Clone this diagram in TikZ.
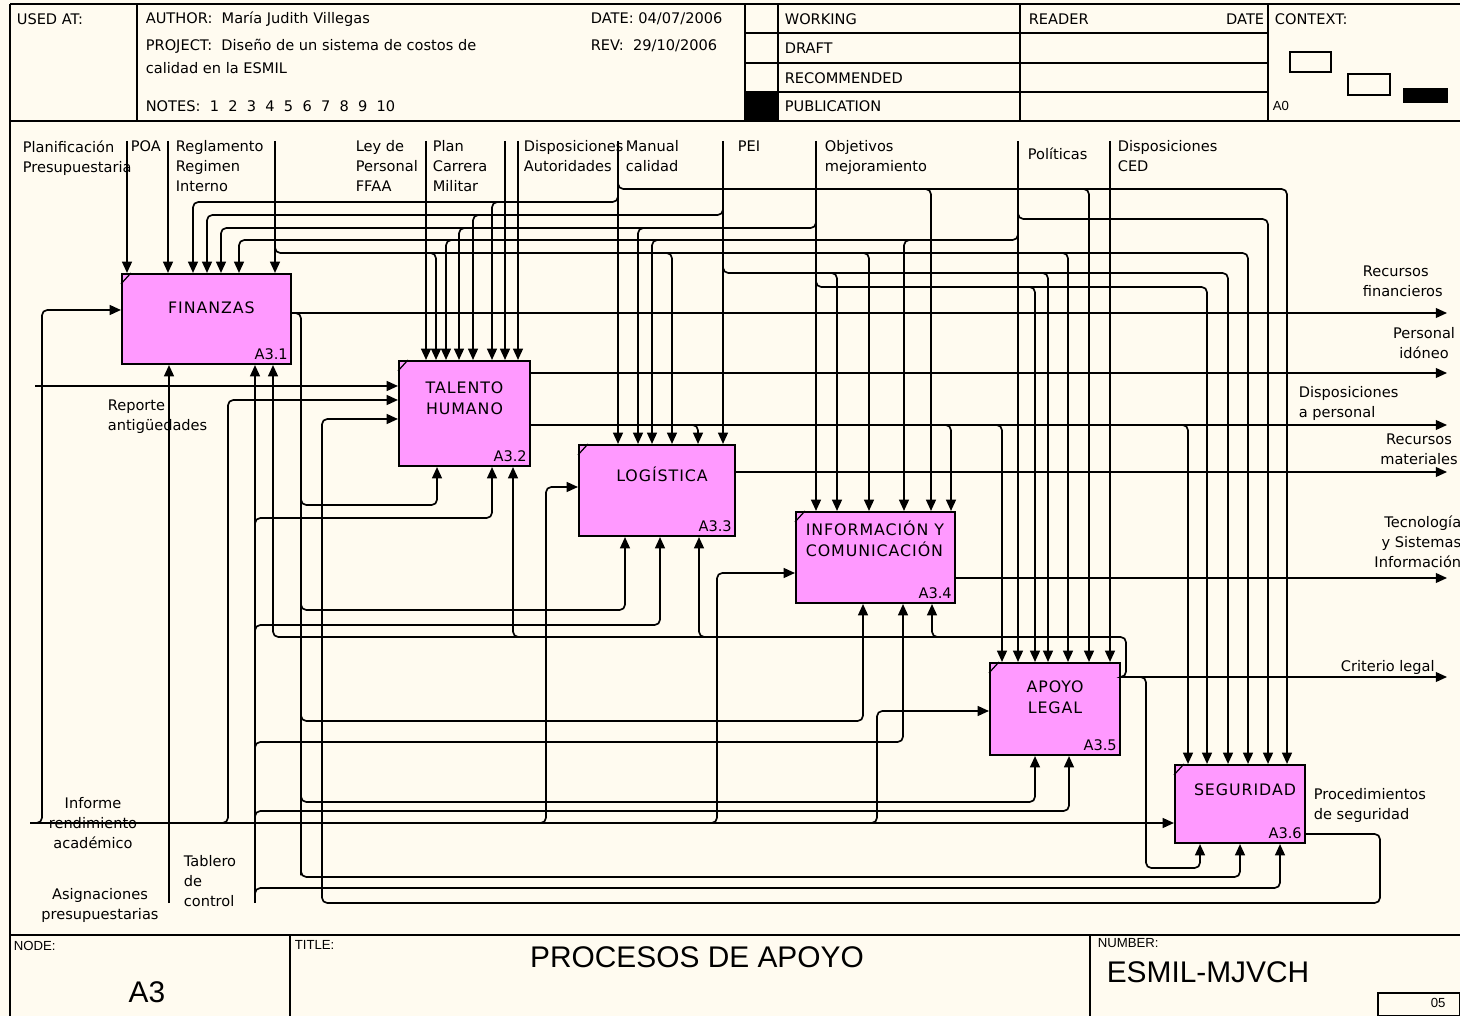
\documentclass[tikz,border=0pt]{standalone}
\usepackage{fontspec}
\setmainfont{DejaVu Sans}
\newfontfamily\boxfont[LetterSpace=6]{DejaVu Sans}
\newfontfamily\bigfont{Liberation Sans}
\usetikzlibrary{arrows.meta,positioning}
\definecolor{paper}{RGB}{255,251,240}
\definecolor{procpink}{RGB}{255,153,255}
\newcommand\procbox[5]{%
  \node[proc, minimum width=#3, minimum height=#4] (#1) at (#2) {};
  \draw[line width=0.7pt] ([yshift=-0.22cm]#1.north west) -- ([xshift=0.2cm]#1.north west);
  \node[boxid, anchor=south east] (#1-id) at ([xshift=-0.07cm,yshift=0.1cm]#1.south east) {#5};}
\begin{document}
\begin{tikzpicture}[x=0.02cm, y=-0.02cm, line width=0.95pt,
  every node/.style={font=\fontsize{8.3}{11.3}\selectfont, inner sep=0pt},
  proc/.style={draw, line width=1.2pt, fill=procpink},
  boxtxt/.style={font=\boxfont\fontsize{9}{12}\selectfont, align=center},
  boxid/.style={font=\fontsize{8.3}{10}\selectfont},
  lbl/.style={align=left, anchor=north west},
  wire/.style={rounded corners=3pt, -{Triangle[length=6.4pt,width=5.6pt]}},
  hdr/.style={anchor=west},
  tag/.style={font=\bigfont\fontsize{7.5}{8}\selectfont, anchor=north west},
  big/.style={font=\bigfont\fontsize{17}{20}\selectfont}]
  \fill[paper] (0,0) rectangle (1460,1016);
  \useasboundingbox (0,0) rectangle (1460,1016);

  % frame, header and footer
  \draw (10,4) -- (1460,4) (10,4) -- (10,1016);
  \draw[line width=1.3pt] (10,121) -- (1460,121) (10,935) -- (1460,935);
  \draw (137,4) -- (137,121) (745,4) -- (745,121) (778,4) -- (778,121) (1020,4) -- (1020,121) (1268,4) -- (1268,121);
  \draw (745,33) -- (1268,33) (745,63) -- (1268,63) (745,92) -- (1268,92);
  \fill (745,92) rectangle (778,121);
  \draw (1290,52) rectangle (1331,72) (1348,74) rectangle (1390,95);
  \fill (1403,88) rectangle (1448,103);
  \draw (290,935) -- (290,1016) (1090,935) -- (1090,1016) (1378,993) rectangle (1460,1016);

  \node[hdr] (usedat) at (16,19) {USED AT:};
  \node[hdr] (author) at (145,19) {AUTHOR:\ \ María Judith Villegas};
  \node[hdr] (date) at (590,19) {DATE: 04/07/2006};
  \node[hdr] (project) at (145,46) {PROJECT:\ \ Diseño de un sistema de costos de};
  \node[hdr] (project2) at (145,68) {calidad en la ESMIL};
  \node[hdr] (rev) at (590,46) {REV:\ \ 29/10/2006};
  \node[hdr] (notes) at (145,106) {NOTES:\ \ 1\ \ 2\ \ 3\ \ 4\ \ 5\ \ 6\ \ 7\ \ 8\ \ 9\ \ 10};
  \node[hdr] (working) at (784,19) {WORKING}; \node[hdr] (draft) at (784,48) {DRAFT};
  \node[hdr] (recom) at (784,78) {RECOMMENDED}; \node[hdr] (public) at (784,106) {PUBLICATION};
  \node[hdr] (reader) at (1028,19) {READER}; \node[anchor=east] (rdate) at (1265,19) {DATE};
  \node[hdr] (context) at (1274,19) {CONTEXT:};
  \node[tag] (a0) at (1272,100) {A0};
  \node[tag] (nodelbl) at (13,940) {NODE:};
  \node[big] (nodeval) at (147,992) {A3};
  \node[tag] (titlelbl) at (294,940) {TITLE:};
  \node[big] (titleval) at (697,957) {PROCESOS DE APOYO};
  \node[tag] (numlbl) at (1097,938) {NUMBER:};
  \node[big] (numval) at (1208,972) {ESMIL-MJVCH};
  \node[tag] (page) at (1430,997) {05};

  % activities
  \procbox{fin}{206.5,319}{3.38cm}{1.8cm}{A3.1}
  \procbox{tal}{464.5,413.5}{2.62cm}{2.1cm}{A3.2}
  \procbox{log}{657,490.5}{3.12cm}{1.82cm}{A3.3}
  \procbox{inf}{875.5,557.5}{3.18cm}{1.82cm}{A3.4}
  \procbox{leg}{1055,709}{2.6cm}{1.84cm}{A3.5}
  \procbox{seg}{1240,804}{2.6cm}{1.56cm}{A3.6}
  \node[boxtxt, below=0.55cm of fin.north, xshift=0.1cm] (fin-txt) {FINANZAS};
  \node[boxtxt, below=0.42cm of tal.north] (tal-txt) {TALENTO\\HUMANO};
  \node[boxtxt, below=0.44cm of log.north, xshift=0.1cm] (log-txt) {LOGÍSTICA};
  \node[boxtxt, align=left, below right=0.18cm and 0.2cm of inf.north west] (inf-txt) {INFORMACIÓN Y\\COMUNICACIÓN};
  \node[boxtxt, below=0.36cm of leg.north] (leg-txt) {APOYO\\LEGAL};
  \node[boxtxt, below=0.38cm of seg.north, xshift=0.1cm] (seg-txt) {SEGURIDAD};

  % controls
  \node[lbl] (l-planif) at (22,140) {Planificación\\Presupuestaria};
  \node[lbl] (l-poa) at (130,140) {POA};
  \node[lbl] (l-regl) at (175,140) {Reglamento\\Regimen\\Interno};
  \node[lbl] (l-leyp) at (355,140) {Ley de\\Personal\\FFAA};
  \node[lbl] (l-plan) at (432,140) {Plan\\Carrera\\Militar};
  \node[lbl] (l-dauto) at (523,140) {Disposiciones\\Autoridades};
  \node[lbl] (l-manual) at (625,140) {Manual\\calidad};
  \node[lbl] (l-pei) at (737,140) {PEI};
  \node[lbl] (l-obj) at (824,140) {Objetivos\\mejoramiento};
  \node[lbl] (l-polit) at (1027,147) {Políticas};
  \node[lbl] (l-dced) at (1117,140) {Disposiciones\\CED};
  \foreach \n/\x in {planif/127,poa/168,regl/275,leyp/426,plan/505,dauto/518,manual/618,pei/723,obj/816,polit/1018,dced/1110}
    \coordinate (\n) at (\x,141);
  \foreach \n/\b in {planif/fin,poa/fin,regl/fin,leyp/tal,plan/tal,dauto/tal,manual/log,pei/log,obj/inf,polit/leg,dced/leg}
    \draw[wire] (\n) -- (\n |- \b.north);

  \draw[wire] (regl |- 0,246) |- (1248,253) -- (1248,0 |- seg.north);
  \foreach \x/\b in {436/tal,672/log,869/inf,1068/leg} \draw[wire] (\x-7,253) -| (\x,0 |- \b.north);
  \draw[wire] (manual |- 0,195) |- (193,202) -- (193,0 |- fin.north);
  \draw[wire] (499,202) -| (492,0 |- tal.north);
  \draw[wire] (manual |- 0,182) |- (1287,189) -- (1287,0 |- seg.north);
  \foreach \x/\b in {931/inf,1089/leg} \draw[wire] (\x-7,189) -| (\x,0 |- \b.north);
  \draw[wire] (pei |- 0,208) |- (207,215) -- (207,0 |- fin.north);
  \draw[wire] (480,215) -| (473,0 |- tal.north);
  \draw[wire] (pei |- 0,266) |- (1228,273) -- (1228,0 |- seg.north);
  \foreach \x/\b in {837/inf,1048/leg} \draw[wire] (\x-7,273) -| (\x,0 |- \b.north);
  \draw[wire] (obj |- 0,221) |- (221,228) -- (221,0 |- fin.north);
  \foreach \x/\b in {459/tal,638/log} \draw[wire] (\x+7,228) -| (\x,0 |- \b.north);
  \draw[wire] (obj |- 0,280) |- (1207,287) -- (1207,0 |- seg.north);
  \draw[wire] (1028,287) -| (1035,0 |- leg.north);
  \draw[wire] (polit |- 0,233) |- (239,240) -- (239,0 |- fin.north);
  \foreach \x/\b in {446/tal,652/log,904/inf} \draw[wire] (\x+7,240) -| (\x,0 |- \b.north);
  \draw[wire] (polit |- 0,212) |- (1268,219) -- (1268,0 |- seg.north);

  % outputs
  \foreach \n/\y in {o-fin/313,o-tal/373,o-disp/425,o-log/472,o-inf/578,o-leg/677}
    \coordinate (\n) at (1447,\y);
  \draw[wire] (fin.east |- o-fin) -- (o-fin);
  \draw[wire] (tal.east |- o-tal) -- (o-tal);
  \draw[wire] (tal.east |- o-disp) -- (o-disp);
  \draw[wire] (log.east |- o-log) -- (o-log);
  \draw[wire] (inf.east |- o-inf) -- (o-inf);
  \draw[wire] (leg.east |- o-leg) -- (o-leg);
  \foreach \x/\b in {698/log,951/inf,1002/leg,1188/seg} \draw[wire] (\x-7,425) -| (\x,0 |- \b.north);
  \node[lbl] (l-rfin) at (1362,265) {Recursos\\financieros};
  \node[align=center, anchor=north] (l-pers) at (1424,327) {Personal\\idóneo};
  \node[lbl] (l-disp) at (1298,386) {Disposiciones\\a personal};
  \node[align=center, anchor=north] (l-rmat) at (1419,433) {Recursos\\materiales};
  \node[align=right, anchor=north east] (l-tec) at (1462,515) {Tecnología\\y Sistemas\\Información};
  \node[lbl] (l-crit) at (1340,660) {Criterio legal};
  \node[lbl] (l-proc) at (1313,788) {Procedimientos\\de seguridad};

  % mechanisms
  \draw[wire] (fin.east |- o-fin) -| (301,870) |- (1240,877) -- (1240,0 |- seg.south);
  \foreach \x/\y/\b in {437/505/tal,625/610/log,863/721/inf,1035/802/leg}
    \draw[wire] (301,\y-7) |- (\x,\y) -- (\x,0 |- \b.south);
  \coordinate (tablero) at (255,903);
  \coordinate (asign) at (169,903);
  \draw[wire] (tablero) -- (tablero |- fin.south);
  \draw[wire] (asign) -- (asign |- fin.south);
  \foreach \x/\y/\b in {492/518/tal,660/625/log,903/742/inf,1069/811/leg,1280/888/seg}
    \draw[wire] (255,\y+7) |- (\x,\y) -- (\x,0 |- \b.south);
  \draw[wire] (leg.east |- o-leg) -| (1126,637) -| (273,0 |- fin.south);
  \foreach \x/\b in {513/tal,699/log,932/inf} \draw[wire] (\x+7,637) -| (\x,0 |- \b.south);
  \draw[wire] (leg.east |- o-leg) -| (1146,868) -| (1200,0 |- seg.south);
  \node[lbl] (l-tab) at (183,855) {Tablero\\de\\control};
  \node[align=center, anchor=north] (l-asign) at (100,888) {Asignaciones\\presupuestarias};

  % inputs
  \coordinate (informe) at (30,823);
  \coordinate (reporte) at (35,386);
  \draw[wire] (informe) -- (informe -| seg.west);
  \foreach \x/\y/\b in {42/310/fin,228/400/tal,546/487/log,717/573/inf,877/711/leg}
    \draw[wire] (\x-6,823) -| (\x,\y) -- (\b.west |- 0,\y);
  \draw[wire] (reporte) -- (reporte -| tal.west);
  \draw[wire] (seg.east |- 0,834) -| (1380,903) -| (322,419) -- (tal.west |- 0,419);
  \node[lbl] (l-rep) at (107,399) {Reporte\\antigüedades};
  \node[align=center, anchor=north] (l-inf) at (93,797) {Informe\\rendimiento\\académico};
\end{tikzpicture}
\end{document}
